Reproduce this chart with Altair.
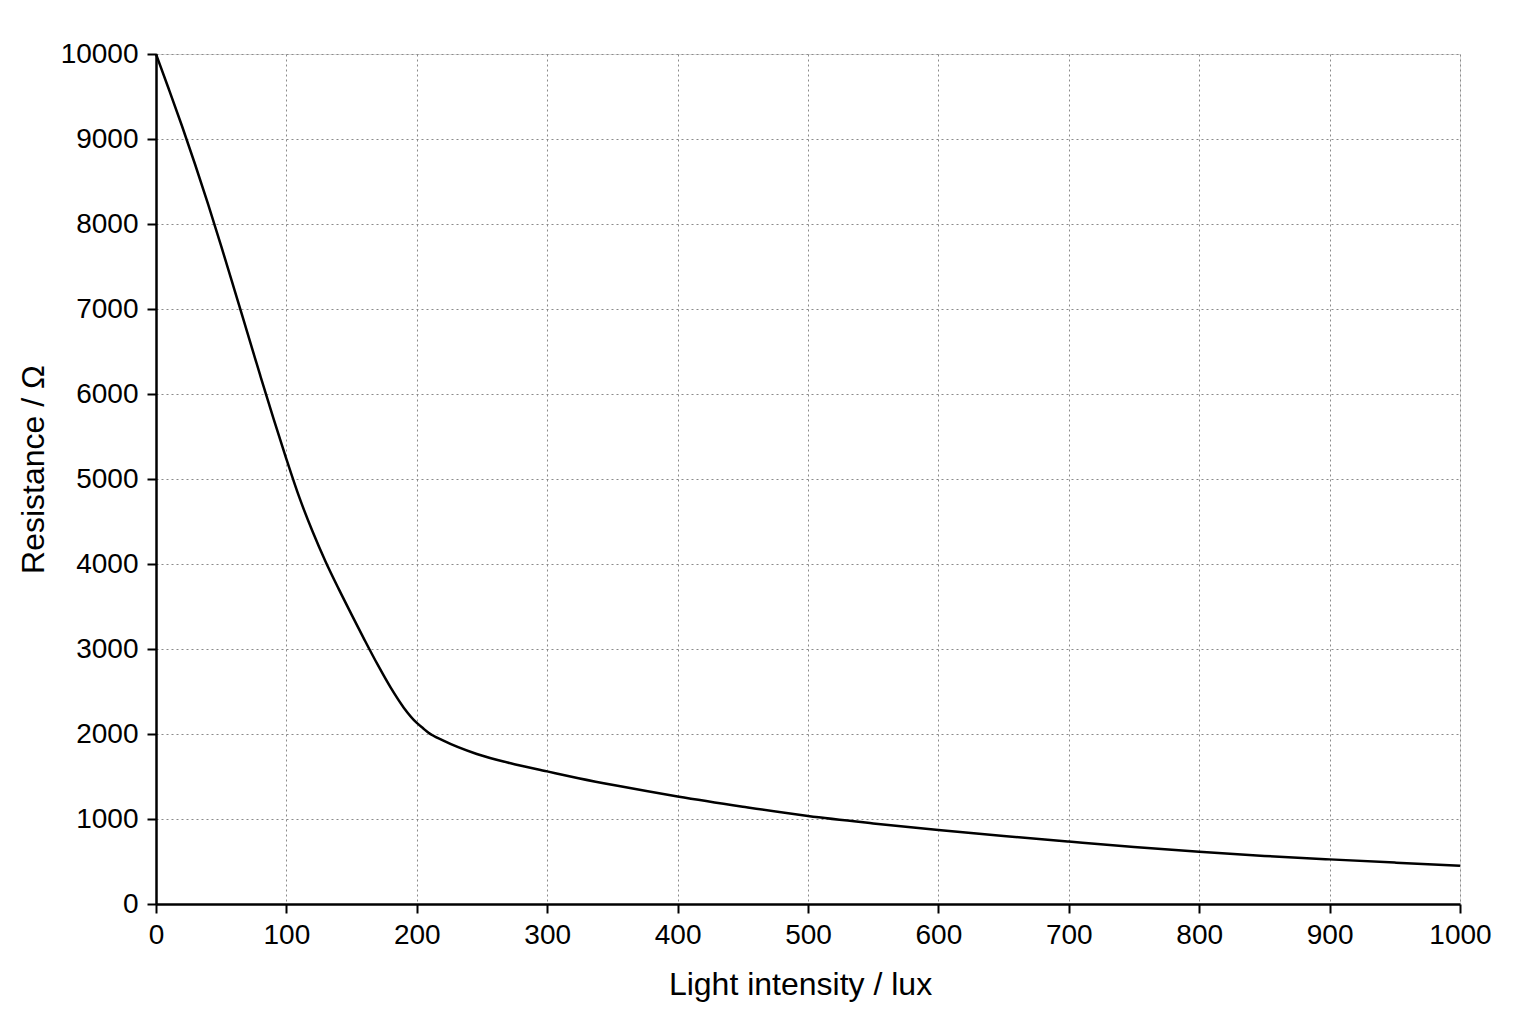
import altair as alt
import pandas as pd

lux = [0, 10, 20, 30, 40, 50, 60, 70, 80, 90, 100, 110, 120, 130, 140, 150, 160, 170, 180, 190,
       200, 205, 209, 220, 246, 272, 300, 324, 354, 400, 450, 500, 550, 600, 650, 700, 750, 800,
       850, 900, 950, 1000]
resistance = [10000, 9580, 9150, 8700, 8230, 7740, 7235, 6725, 6215, 5715, 5235, 4780, 4385, 4030,
              3710, 3405, 3105, 2815, 2545, 2310, 2130, 2065, 2015, 1925, 1765, 1655, 1560, 1480,
              1390, 1265, 1145, 1035, 948, 870, 800, 735, 672, 615, 566, 525, 487, 450]

x_ticks = list(range(0, 1001, 100))
y_ticks = list(range(0, 10001, 1000))

df = pd.DataFrame({"lux": lux, "R": resistance})

FONT = "Liberation Sans"

common_axis = dict(
    format="d", grid=True, gridColor="#8a8a8a", gridDash=[2, 3], gridWidth=1,
    domainColor="black", domainWidth=2.5, tickColor="black", tickWidth=2,
    tickSize=9, labelFontSize=28, titleFontSize=32, titleFontWeight="normal",
    labelColor="black", titleColor="black", labelFont=FONT, titleFont=FONT,
    labelFlush=False,
)

chart = alt.Chart(df).mark_line(color="black", strokeWidth=2.5, interpolate="monotone").encode(
    x=alt.X("lux:Q", scale=alt.Scale(domain=[0, 1000], nice=False, zero=True),
            axis=alt.Axis(title="Light intensity / lux", values=x_ticks,
                          labelPadding=8, titlePadding=20, titleX=644, **common_axis)),
    y=alt.Y("R:Q", scale=alt.Scale(domain=[0, 10000], nice=False),
            axis=alt.Axis(title="Resistance / Ω", values=y_ticks,
                          labelPadding=9, titlePadding=10, titleY=415, **common_axis)),
).properties(
    width=1304, height=850,
    autosize=alt.AutoSizeParams(type="none"),
    padding={"left": 148, "top": 46, "right": 60, "bottom": 110},
).configure_view(stroke=None).configure(background="white")

chart.save("out.html", embed_options={"renderer": "svg", "actions": False})
